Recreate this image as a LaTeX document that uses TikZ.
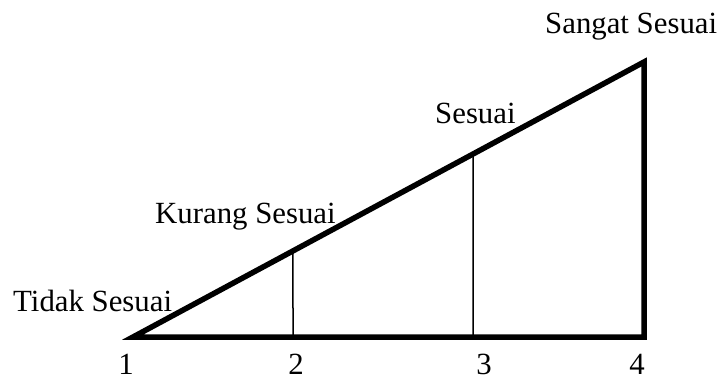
\documentclass[tikz,border=0pt]{standalone}
\usepackage{fontspec}
\setmainfont{Liberation Serif}
\usetikzlibrary{calc}
\begin{document}
\begin{tikzpicture}[x=1pt,y=-1pt,
  lbl/.style={font=\fontsize{30.8}{36}\selectfont, inner sep=0pt, anchor=base west},
  num/.style={font=\fontsize{30.8}{36}\selectfont, inner sep=0pt, anchor=base},
  thickline/.style={line width=5.5pt, line join=miter, miter limit=10},
  thinline/.style={line width=1.5pt}]
\useasboundingbox (0,0) rectangle (726,381);
\coordinate (A) at (133,337);
\coordinate (B) at (644,337);
\coordinate (C) at (644,62);
\coordinate (T2) at ($(A)!0.3131!(C)$);
\coordinate (T3) at ($(A)!0.6654!(C)$);
\coordinate (B2) at (293,337);
\coordinate (B3) at (473,337);
\draw[thinline] (B2) -- (T2);
\draw[thinline] (B3) -- (T3);
\draw[thickline] (A) -- (B) -- (C) -- cycle;
\node[lbl] (ts) at (13,311) {Tidak Sesuai};
\node[lbl] (ks) at (155,223) {Kurang Sesuai};
\node[lbl] (s) at (435,123) {Sesuai};
\node[lbl] (ss) at (545,33) {Sangat Sesuai};
\node[num] (n1) at (126,374) {1};
\node[num] (n2) at (296,374) {2};
\node[num] (n3) at (484,374) {3};
\node[num] (n4) at (637,374) {4};
\end{tikzpicture}
\end{document}
